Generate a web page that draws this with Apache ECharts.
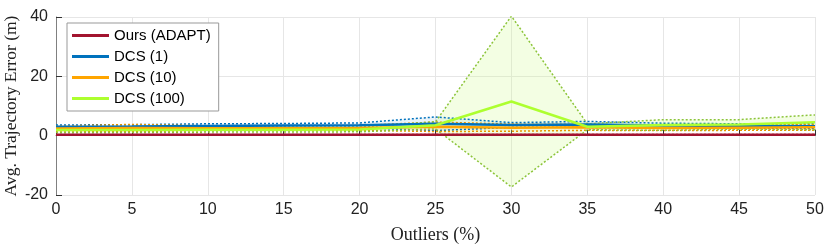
<!DOCTYPE html>
<html><head><meta charset="utf-8">
<script src="https://cdn.jsdelivr.net/npm/echarts@6/dist/echarts.min.js"></script>
<style>html,body{margin:0;padding:0;background:#fff}#c{width:830px;height:247px}</style>
</head><body><div id="c"></div>
<script>
const xCats = [0,5,10,15,20,25,30,35,40,45,50];
const oursMean  = [0.3,0.3,0.3,0.3,0.3,0.3,0.3,0.3,0.3,0.3,0.3];
const oursStd   = [0.1,0.1,0.1,0.1,0.1,0.1,0.1,0.1,0.1,0.1,0.1];
const dcs1Mean  = [3.0,3.1,3.3,3.4,3.5,4.0,3.6,3.8,3.4,3.3,3.2];
const dcs1Std   = [0.6,0.6,0.7,0.7,0.8,2.3,0.8,1.0,0.8,0.7,0.8];
const dcs10Mean = [2.4,2.6,2.5,2.5,2.6,3.0,2.7,2.8,2.6,2.7,2.8];
const dcs10Std  = [0.8,1.2,0.8,0.8,0.8,1.6,1.2,1.0,0.9,0.9,1.0];
const dcs100Mean= [1.9,1.9,2.0,2.0,2.1,3.5,11.5,3.0,3.6,3.8,4.5];
const dcs100Std = [0.8,0.8,0.8,0.8,0.8,1.2,28.8,1.0,1.8,1.6,2.5];
const yTicks = [-20,0,20,40];

const defs = [
  {name:'Ours (ADAPT)', mean:oursMean, std:oursStd, color:'#A2142F', fill:'rgba(162,20,47,0.15)', dot:'#A2142F'},
  {name:'DCS (1)', mean:dcs1Mean, std:dcs1Std, color:'#0072BD', fill:'rgba(0,114,189,0.12)', dot:'#0072BD'},
  {name:'DCS (10)', mean:dcs10Mean, std:dcs10Std, color:'#FFA500', fill:'rgba(255,165,0,0.15)', dot:'#E69500'},
  {name:'DCS (100)', mean:dcs100Mean, std:dcs100Std, color:'#ADFF2F', fill:'rgba(205,250,140,0.35)', dot:'#8CC43A'}
];
const series = [];
defs.forEach((d,i)=>{
  const lo = d.mean.map((m,k)=>m-d.std[k]);
  const hi = d.mean.map((m,k)=>m+d.std[k]);
  const diff = d.std.map(s=>2*s);
  series.push({type:'line', data:lo, stack:'b'+i, stackStrategy:'all', symbol:'none', lineStyle:{opacity:0}, silent:true, z:1});
  series.push({type:'line', data:diff, stack:'b'+i, stackStrategy:'all', symbol:'none', lineStyle:{opacity:0}, areaStyle:{color:d.fill}, silent:true, z:1});
  series.push({type:'line', data:lo, symbol:'none', lineStyle:{color:d.dot, width:1.5, type:[2,2]}, silent:true, z:2});
  series.push({type:'line', data:hi, symbol:'none', lineStyle:{color:d.dot, width:1.5, type:[2,2]}, silent:true, z:2});
});
defs.forEach((d)=>{
  series.push({name:d.name, type:'line', data:d.mean, symbol:'none', lineStyle:{color:d.color, width:2.5}, itemStyle:{color:d.color}, z:5});
});

const chart = echarts.init(document.getElementById('c'));
chart.setOption({
  animation:false,
  grid:{left:56, right:15, top:17, bottom:52, containLabel:false, outerBoundsMode:'none'},
  legend:{
    data:defs.map(d=>d.name), orient:'vertical', left:67, top:23,
    backgroundColor:'#fff', borderColor:'#999', borderWidth:1,
    padding:[5,8,5,5], itemGap:6, itemWidth:37, itemHeight:3,
    icon:'rect',
    textStyle:{fontFamily:'Liberation Sans, Arial, sans-serif', fontSize:15, color:'#000'}
  },
  xAxis:{
    type:'category', data:xCats, boundaryGap:false,
    name:'Outliers (%)', nameLocation:'middle', nameGap:31, nameMoveOverlap:false,
    nameTextStyle:{fontFamily:'Liberation Serif, Times New Roman, serif', fontSize:18, color:'#222'},
    axisLine:{lineStyle:{color:'#808080', width:1}},
    axisTick:{inside:true, length:6, lineStyle:{color:'#333'}},
    axisLabel:{fontFamily:'Liberation Sans, Arial, sans-serif', fontSize:16, color:'#222', margin:7},
    splitLine:{show:true, lineStyle:{color:'#e6e6e6'}}
  },
  yAxis:{
    type:'value', min:-20, max:40, interval:20,
    name:'Avg. Trajectory Error (m)', nameLocation:'middle', nameGap:36, nameMoveOverlap:false,
    nameTextStyle:{fontFamily:'Liberation Serif, Times New Roman, serif', fontSize:17.5, color:'#222'},
    axisLine:{show:true, lineStyle:{color:'#808080', width:1}},
    axisTick:{show:true, inside:true, length:6, lineStyle:{color:'#333'}},
    axisLabel:{fontFamily:'Liberation Sans, Arial, sans-serif', fontSize:16, color:'#222', margin:8},
    splitLine:{show:true, lineStyle:{color:'#e6e6e6'}}
  },
  series: series
});
</script></body></html>
